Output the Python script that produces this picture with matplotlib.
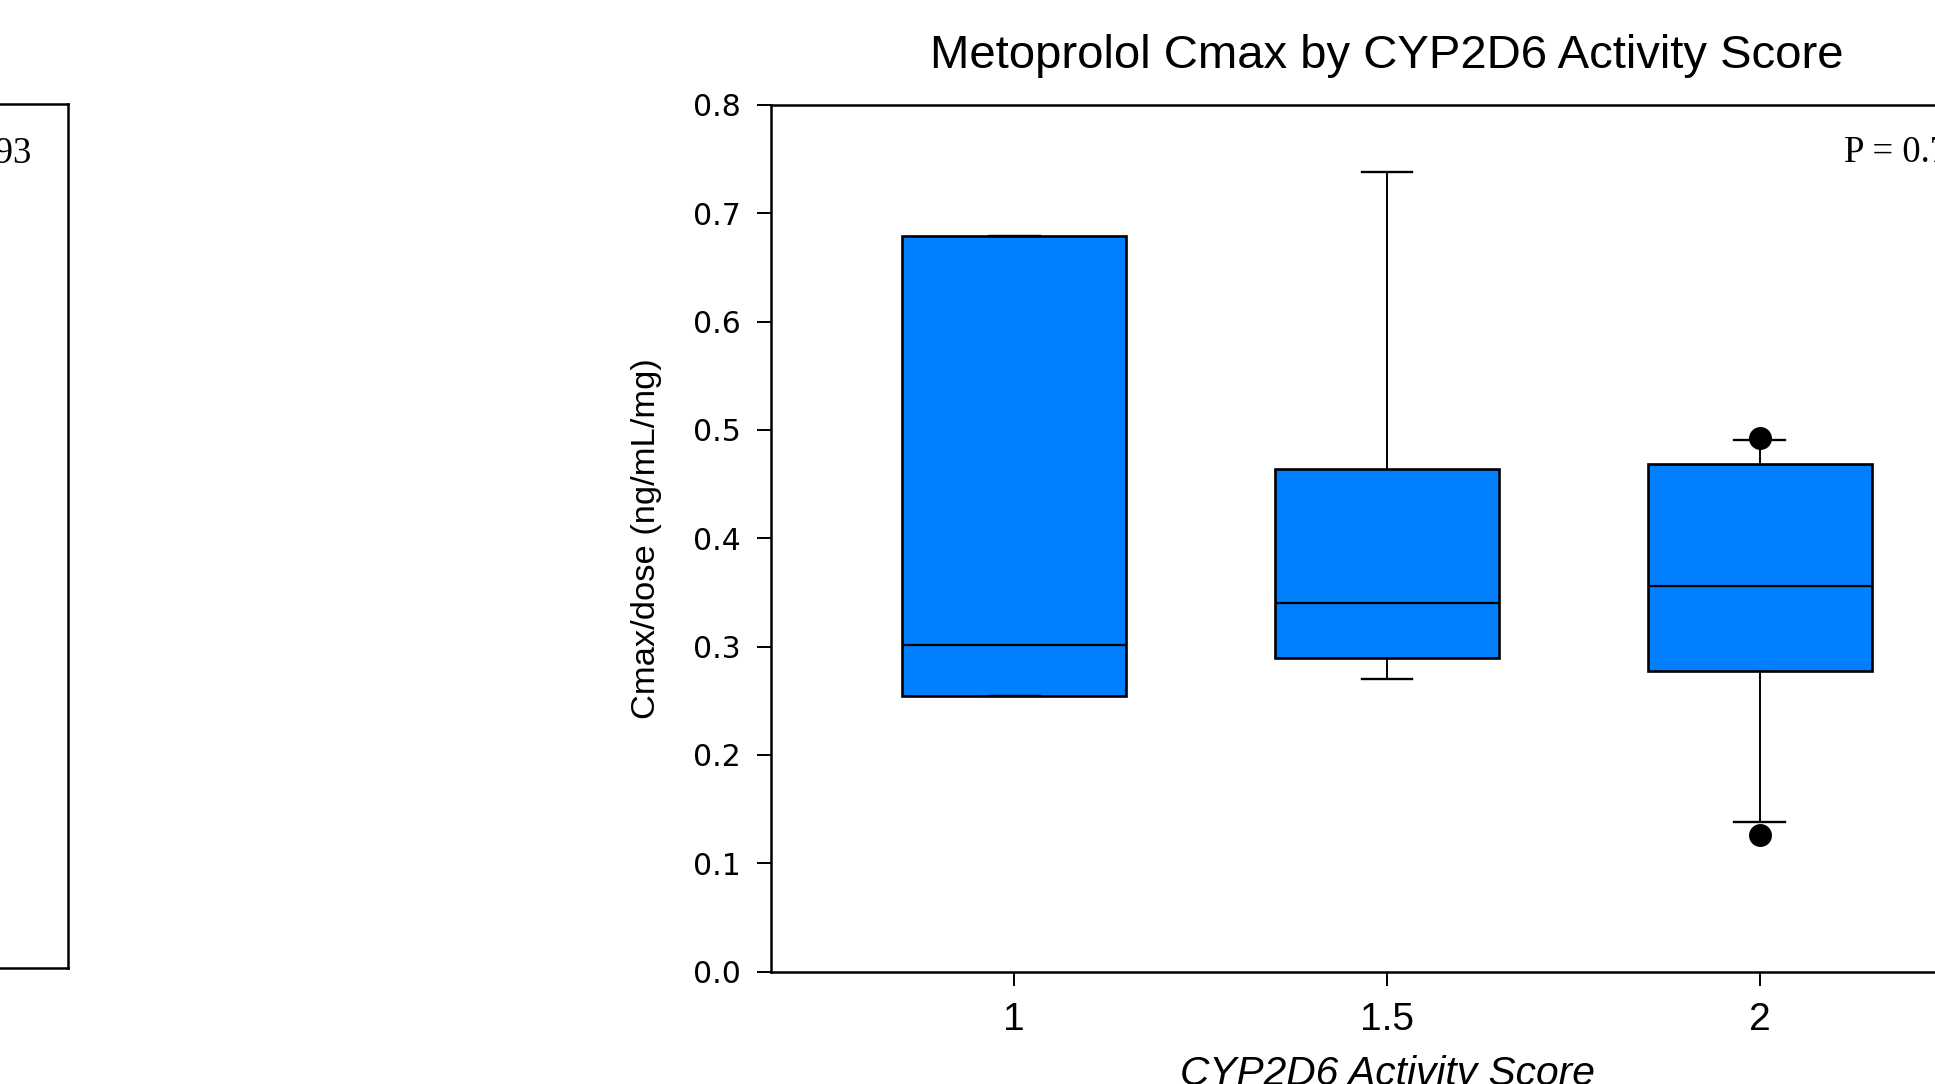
import matplotlib
matplotlib.use("Agg")
import matplotlib.pyplot as plt

# ---- data ----
categories = ["1", "1.5", "2"]
positions = [1.0, 1.5, 2.0]
q1 = [0.254, 0.289, 0.277]
median = [0.301, 0.340, 0.356]
q3 = [0.679, 0.464, 0.469]
whis_lo = [0.254, 0.270, 0.138]
whis_hi = [0.679, 0.738, 0.491]
outliers = [[], [], [0.493, 0.126]]
y_ticks = [0.0, 0.1, 0.2, 0.3, 0.4, 0.5, 0.6, 0.7, 0.8]
p_left = "P = 0.93"
p_right = "P = 0.78"

W, H = 1935, 1084
fig = plt.figure(figsize=(W / 100, H / 100), dpi=100)

def frac(x0, y0_top, x1, y1_bottom):
    return [x0 / W, 1 - y1_bottom / H, (x1 - x0) / W, (y1_bottom - y0_top) / H]

SANS = "Liberation Sans"
SERIF = "Liberation Serif"

# ---- left (cut-off) panel ----
axL = fig.add_axes(frac(68 - 1232, 104, 68, 968.3))
axL.set_xticks([])
axL.set_yticks([])
for s in axL.spines.values():
    s.set_linewidth(1.8)
axL.text(1 - 37 / 1232, 1 - 59 / 864, p_left, transform=axL.transAxes,
         ha="right", va="baseline", fontsize=26.5, family=SERIF)

# ---- right panel ----
ax = fig.add_axes(frac(771, 105, 2003, 971.5))
stats = []
for i in range(len(categories)):
    stats.append(dict(med=median[i], q1=q1[i], q3=q3[i],
                      whislo=whis_lo[i], whishi=whis_hi[i],
                      fliers=outliers[i], label=categories[i]))
ax.bxp(stats, positions=positions, widths=0.30, capwidths=0.068,
       patch_artist=True, manage_ticks=False,
       boxprops=dict(facecolor="#007FFF", edgecolor="black", linewidth=1.9),
       medianprops=dict(color="black", linewidth=1.6),
       whiskerprops=dict(color="black", linewidth=1.4),
       capprops=dict(color="black", linewidth=1.7),
       flierprops=dict(marker="o", markerfacecolor="black",
                       markeredgecolor="black", markersize=15.5))
ax.set_xlim(0.6737, 2.3263)
ax.set_ylim(0, 0.8)
ax.set_xticks(positions)
ax.set_xticklabels(categories, fontsize=28, family=SANS)
ax.set_yticks(y_ticks)
ax.set_yticklabels([f"{v:.1f}" for v in y_ticks], fontsize=21.5, family="DejaVu Sans")
ax.tick_params(axis="both", direction="out", length=10, width=1.4, pad=12)
for s in ax.spines.values():
    s.set_linewidth(1.8)

ax.set_title("Metoprolol Cmax by CYP2D6 Activity Score", fontsize=34,
             family=SANS, pad=26.5)
ax.set_xlabel("CYP2D6 Activity Score", fontsize=29.3, family=SANS,
              style="italic", labelpad=12)
ax.set_ylabel("Cmax/dose (ng/mL/mg)", fontsize=24.8, family=SANS, labelpad=22)
ax.text(1 - 37 / 1232, 1 - 57 / 866.5, p_right, transform=ax.transAxes,
        ha="right", va="baseline", fontsize=26.5, family=SERIF)

fig.savefig("out.png", dpi=100)
